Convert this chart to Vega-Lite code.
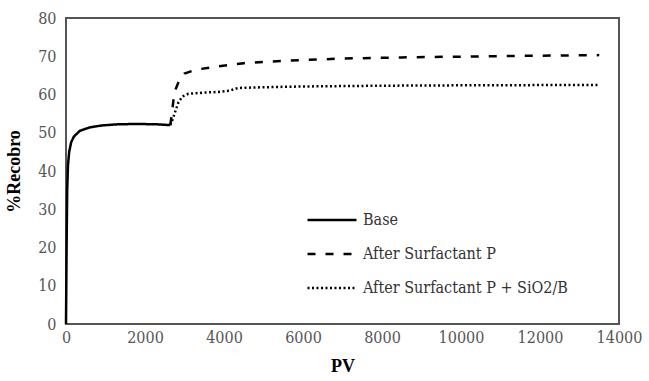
{
  "$schema": "https://vega.github.io/schema/vega-lite/v6.json",
  "autosize": {"type": "none"},
  "width": 553,
  "height": 306,
  "padding": {"left": 66, "top": 18, "right": 30, "bottom": 57},
  "background": "white",
  "config": {
    "font": "Liberation Serif",
    "view": {"stroke": "#555", "strokeWidth": 2}
  },
  "data": {"values": [
    {"pv": 0, "r": 0, "s": "Base"},
    {"pv": 15, "r": 20, "s": "Base"},
    {"pv": 30, "r": 35, "s": "Base"},
    {"pv": 50, "r": 41.5, "s": "Base"},
    {"pv": 80, "r": 45, "s": "Base"},
    {"pv": 130, "r": 47.5, "s": "Base"},
    {"pv": 200, "r": 49, "s": "Base"},
    {"pv": 350, "r": 50.5, "s": "Base"},
    {"pv": 600, "r": 51.4, "s": "Base"},
    {"pv": 900, "r": 51.9, "s": "Base"},
    {"pv": 1300, "r": 52.2, "s": "Base"},
    {"pv": 1800, "r": 52.3, "s": "Base"},
    {"pv": 2300, "r": 52.2, "s": "Base"},
    {"pv": 2640, "r": 52, "s": "Base"},
    {"pv": 2640, "r": 52, "s": "After Surfactant P"},
    {"pv": 2680, "r": 55, "s": "After Surfactant P"},
    {"pv": 2720, "r": 58.5, "s": "After Surfactant P"},
    {"pv": 2780, "r": 61.5, "s": "After Surfactant P"},
    {"pv": 2880, "r": 64, "s": "After Surfactant P"},
    {"pv": 3000, "r": 65.5, "s": "After Surfactant P"},
    {"pv": 3300, "r": 66.5, "s": "After Surfactant P"},
    {"pv": 3800, "r": 67.3, "s": "After Surfactant P"},
    {"pv": 4500, "r": 68.2, "s": "After Surfactant P"},
    {"pv": 5500, "r": 68.8, "s": "After Surfactant P"},
    {"pv": 7000, "r": 69.4, "s": "After Surfactant P"},
    {"pv": 8500, "r": 69.7, "s": "After Surfactant P"},
    {"pv": 10000, "r": 69.9, "s": "After Surfactant P"},
    {"pv": 11500, "r": 70.1, "s": "After Surfactant P"},
    {"pv": 13500, "r": 70.3, "s": "After Surfactant P"},
    {"pv": 2640, "r": 52, "s": "After Surfactant P + SiO2/B"},
    {"pv": 2700, "r": 53.5, "s": "After Surfactant P + SiO2/B"},
    {"pv": 2780, "r": 56, "s": "After Surfactant P + SiO2/B"},
    {"pv": 2850, "r": 58, "s": "After Surfactant P + SiO2/B"},
    {"pv": 2950, "r": 59.5, "s": "After Surfactant P + SiO2/B"},
    {"pv": 3100, "r": 60.2, "s": "After Surfactant P + SiO2/B"},
    {"pv": 3500, "r": 60.5, "s": "After Surfactant P + SiO2/B"},
    {"pv": 3900, "r": 60.7, "s": "After Surfactant P + SiO2/B"},
    {"pv": 4150, "r": 61, "s": "After Surfactant P + SiO2/B"},
    {"pv": 4350, "r": 61.7, "s": "After Surfactant P + SiO2/B"},
    {"pv": 5000, "r": 61.9, "s": "After Surfactant P + SiO2/B"},
    {"pv": 6000, "r": 62.1, "s": "After Surfactant P + SiO2/B"},
    {"pv": 8000, "r": 62.3, "s": "After Surfactant P + SiO2/B"},
    {"pv": 10000, "r": 62.4, "s": "After Surfactant P + SiO2/B"},
    {"pv": 13500, "r": 62.5, "s": "After Surfactant P + SiO2/B"}
  ]},
  "mark": {"type": "line", "strokeWidth": 2.5, "color": "black"},
  "encoding": {
    "x": {
      "field": "pv", "type": "quantitative", "title": "PV",
      "scale": {"domain": [0, 14000], "nice": false},
      "axis": {
        "values": [0, 2000, 4000, 6000, 8000, 10000, 12000, 14000],
        "format": "d", "grid": false, "domain": false, "ticks": false,
        "labelFont": "DejaVu Serif Condensed", "labelFontSize": 16, "labelColor": "#555",
        "labelPadding": 5, "labelFlush": false,
        "titleFontSize": 18, "titleFontWeight": "bold",
        "titleColor": "black", "titlePadding": 12
      }
    },
    "y": {
      "field": "r", "type": "quantitative", "title": "%Recobro",
      "scale": {"domain": [0, 80], "nice": false},
      "axis": {
        "values": [0, 10, 20, 30, 40, 50, 60, 70, 80],
        "grid": false, "domain": false, "ticks": false,
        "labelFont": "DejaVu Serif Condensed", "labelFontSize": 16, "labelColor": "#555",
        "labelPadding": 10,
        "titleFontSize": 18, "titleFontWeight": "bold",
        "titleColor": "black", "titlePadding": 14
      }
    },
    "strokeDash": {
      "field": "s", "type": "nominal", "title": null,
      "scale": {
        "domain": ["Base", "After Surfactant P", "After Surfactant P + SiO2/B"],
        "range": [[1, 0], [8, 10], [2, 2.5]]
      },
      "legend": {
        "orient": "none", "legendX": 240, "legendY": 176,
        "symbolType": "stroke", "symbolSize": 2401, "symbolStrokeWidth": 2.5,
        "symbolStrokeColor": "black",
        "labelFont": "DejaVu Serif Condensed", "labelFontSize": 16, "labelColor": "#333", "labelLimit": 400,
        "labelOffset": 5, "rowPadding": 0
      }
    },
    "order": {"field": "pv", "type": "quantitative"}
  }
}
